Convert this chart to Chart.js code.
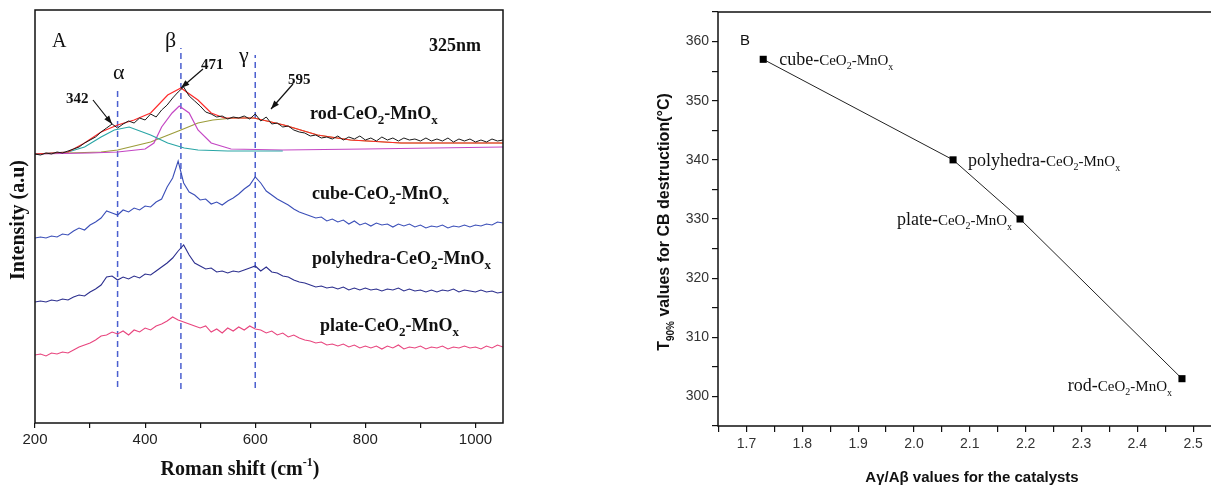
<!DOCTYPE html>
<html>
<head>
<meta charset="utf-8">
<script src="https://cdn.jsdelivr.net/npm/chart.js@4.4.0/dist/chart.umd.min.js"></script>
<style>
body{margin:0;background:#fff;width:1216px;height:486px;overflow:hidden;position:relative}
#boxA{position:absolute;left:0;top:0;width:520px;height:486px}
#boxB{position:absolute;left:640px;top:0;width:576px;height:486px}
</style>
</head>
<body>
<div id="boxA"><canvas id="ramanChart"></canvas></div>
<div id="boxB"><canvas id="t90Chart"></canvas></div>
<script>
// Panel A - Raman spectra (shift in cm-1, stacked intensity in a.u.)

// measured spectra share one shift grid: 200, 210 ... 1050
const shiftGrid=[];
for(let s=200;s<=1050;s+=10)shiftGrid.push(s);

const rodInt=[
269,268,270,269,271,270,272,274,276,280,
283,286,291,295,299,295,299,302,300,305,
303,309,306,313,318,325,331,336,327,322,
317,311,309,306,307,304,306,305,307,304,
309,302,306,299,300,296,297,293,291,290,
287,288,285,286,284,287,283,286,284,287,
283,285,282,286,283,285,282,285,283,284,
282,285,282,284,282,285,281,284,282,284,
281,283,281,284,282,283];

const cubeInt=[
185,186,185,187,186,189,188,192,195,193,
198,201,205,212,210,208,213,211,215,213,
217,216,221,224,236,245,262,240,231,228,
223,224,219,221,218,222,225,229,234,238,
246,240,232,228,224,221,218,214,211,209,
207,205,206,202,204,201,203,199,202,198,
200,197,200,198,199,196,199,197,199,196,
198,195,197,196,198,195,197,196,198,196,
198,197,199,198,201,200];

const polyInt=[
121,122,121,123,122,124,123,126,128,127,
131,134,138,146,147,143,146,144,147,145,
149,148,152,156,160,165,172,178,168,160,
157,154,155,151,152,150,152,151,153,155,
157,152,156,151,150,147,146,143,141,140,
138,136,137,135,136,134,136,133,135,133,
135,133,134,132,134,133,135,132,134,132,
133,131,133,131,133,132,134,131,133,132,
131,133,131,132,130,131];

const plateInt=[
68,69,67,70,69,71,70,73,76,78,
80,83,87,88,91,89,92,88,93,91,
95,93,97,99,102,106,103,101,99,97,
95,97,91,94,90,95,92,96,93,97,
94,93,90,92,88,90,86,88,85,83,
82,80,81,78,79,77,79,76,78,75,
77,75,77,74,77,75,78,74,76,75,
77,74,76,75,77,74,76,75,77,75,
76,74,77,75,78,76];

// fitted components of the rod spectrum
const fitSumShift=[200,260,290,320,350,380,410,441,465,496,520,544,598,652,713,773,865,1050];
const fitSumInt=[269,271,280,291,298,303,310,328,335,323,310,305,305,298,288,283,280,280];

const fitAlphaShift=[200,260,290,320,344,371,410,441,471,496,550,650];
const fitAlphaInt=[269,271,276,286,293,296,288,280,275,273,272,272];

const fitBetaShift=[200,300,350,400,416,430,449,462,480,496,520,556,650,800,1050];
const fitBetaInt=[269,270,271,274,280,296,310,317,310,293,280,274,273,274,276];

const fitGammaShift=[200,260,320,350,410,465,496,523,560,598,652,713,773,865,1050];
const fitGammaInt=[269,270,271,273,281,293,300,303,305,305,298,288,283,280,280];

// band positions (alpha, beta, gamma) and span of the dashed markers
const bandShift=[350,465,600];
const bandLow=[36,34,35];
const bandHigh=[336,375,368];

// Panel B - T90 vs A_gamma/A_beta
const catNames=["cube","polyhedra","plate","rod"];
const areaRatio=[1.73,2.07,2.19,2.48];
const t90=[357,340,330,303];

const pts=(xs,ys)=>xs.map((x,i)=>({x:x,y:ys[i]}));
const serif="'Liberation Serif','Times New Roman',serif";
const sans="'Liberation Sans',Arial,sans-serif";

function line(label,xs,ys,color,width){
return {label:label,data:pts(xs,ys),showLine:true,borderColor:color,borderWidth:width||1,pointRadius:0,fill:false,tension:0};
}

// draw text made of pieces [text, font, dy]
function pieces(ctx,x,y,parts,align){
let w=0;
parts.forEach(p=>{ctx.font=p[1];w+=ctx.measureText(p[0]).width;});
let cx=align==="right"?x-w:(align==="center"?x-w/2:x);
parts.forEach(p=>{ctx.font=p[1];ctx.fillText(p[0],cx,y+(p[2]||0));cx+=ctx.measureText(p[0]).width;});
}

function arrow(ctx,x1,y1,x2,y2){
ctx.beginPath();
ctx.moveTo(x1,y1);
ctx.lineTo(x2,y2);
ctx.stroke();
const a=Math.atan2(y2-y1,x2-x1);
ctx.beginPath();
ctx.moveTo(x2,y2);
ctx.lineTo(x2-9*Math.cos(a-0.35),y2-9*Math.sin(a-0.35));
ctx.lineTo(x2-9*Math.cos(a+0.35),y2-9*Math.sin(a+0.35));
ctx.closePath();
ctx.fill();
}

const ramanText={
id:"ramanText",
afterDraw(chart){
const ctx=chart.ctx;
const a=chart.chartArea;
ctx.save();
ctx.strokeStyle="#111";
ctx.lineWidth=1.5;
ctx.strokeRect(a.left,a.top,a.right-a.left,a.bottom-a.top);
ctx.fillStyle="#111";
ctx.textBaseline="alphabetic";
ctx.textAlign="left";

ctx.font="20px "+serif;
ctx.fillText("A",52,47);
ctx.font="bold 18px "+serif;
ctx.fillText("325nm",429,51);
ctx.font="22px "+serif;
ctx.fillText("\u03b1",113,79);
ctx.fillText("\u03b2",165,47);
ctx.fillText("\u03b3",239,62);

ctx.font="bold 15px "+serif;
ctx.fillText("342",66,103);
ctx.fillText("471",201,69);
ctx.fillText("595",288,84);

ctx.lineWidth=1.2;
arrow(ctx,93,100,112,124);
arrow(ctx,203,69,181,88);
arrow(ctx,293,84,271,109);

const big="bold 18px "+serif, sub="bold 13px "+serif;
const chem=(name,x,y)=>pieces(ctx,x,y,[[name+"-CeO",big],["2",sub,5],["-MnO",big],["x",sub,5]],"left");
chem("rod",310,119);
chem("cube",312,199);
chem("polyhedra",312,264);
chem("plate",320,331);

ctx.font="bold 20px "+serif;
ctx.save();
ctx.translate(24,220);
ctx.rotate(-Math.PI/2);
ctx.textAlign="center";
ctx.fillText("Intensity (a.u)",0,0);
ctx.restore();

pieces(ctx,240,475,[["Roman shift (cm","bold 20px "+serif],["-1","bold 12px "+serif,-9],[")","bold 20px "+serif]],"center");
ctx.restore();
}
};

const dashColor="#4a5fcf";
const bandSets=bandShift.map((s,i)=>({
label:"band"+i,data:[{x:s,y:bandLow[i]},{x:s,y:bandHigh[i]}],showLine:true,
borderColor:dashColor,borderWidth:1.5,borderDash:[6,4],pointRadius:0
}));

new Chart(
document.getElementById("ramanChart"),
{
type:"scatter",
data:{
datasets:[
line("rod",shiftGrid,rodInt,"#1a1a1a",1),
line("fit sum",fitSumShift,fitSumInt,"#ff2a2a",1.2),
line("fit alpha",fitAlphaShift,fitAlphaInt,"#2aa6a6",1.2),
line("fit beta",fitBetaShift,fitBetaInt,"#c447c4",1.2),
line("fit gamma",fitGammaShift,fitGammaInt,"#9c9c3a",1.2),
line("cube",shiftGrid,cubeInt,"#3b4fb8",1.1),
line("polyhedra",shiftGrid,polyInt,"#2c2f8e",1.1),
line("plate",shiftGrid,plateInt,"#e8457e",1.1)
].concat(bandSets)
},
options:{
responsive:true,
maintainAspectRatio:false,
animation:false,
events:[],
layout:{padding:{top:10,right:17,left:0,bottom:0}},
plugins:{legend:{display:false},tooltip:{enabled:false}},
scales:{
x:{
type:"linear",min:200,max:1050,
afterFit:s=>{s.height=63;},
afterBuildTicks:s=>{s.ticks=[200,300,400,500,600,700,800,900,1000].map(v=>({value:v}));},
ticks:{callback:v=>v%200===0?v:"",font:{family:sans,size:15},color:"#222",padding:3,maxRotation:0,autoSkip:false},
grid:{drawOnChartArea:false,tickLength:5,color:"#111",lineWidth:1.2},
border:{display:false}
},
y:{
min:0,max:413,
afterFit:s=>{s.width=35;},
ticks:{display:false},
grid:{display:false},
border:{display:false}
}
}
},
plugins:[ramanText]
}
);

// Panel B

const t90Text={
id:"t90Text",
afterDraw(chart){
const ctx=chart.ctx;
const a=chart.chartArea;
const xs=chart.scales.x, ys=chart.scales.y;
ctx.save();
ctx.strokeStyle="#111";
ctx.lineWidth=1.5;
ctx.beginPath();
ctx.moveTo(a.left,a.top);
ctx.lineTo(a.right,a.top);
ctx.moveTo(a.left,a.top);
ctx.lineTo(a.left,a.bottom);
ctx.lineTo(a.right,a.bottom);
ctx.stroke();

ctx.fillStyle="#111";
ctx.textAlign="left";
ctx.font="15px "+sans;
ctx.fillText("B",a.left+22,a.top+33);

const big="18px "+serif, mid="15px "+serif, sub="10px "+serif;
const place=[[16,6,"left"],[15,6,"left"],[-8,6,"right"],[-10,12,"right"]];
catNames.forEach((n,i)=>{
const px=xs.getPixelForValue(areaRatio[i]);
const py=ys.getPixelForValue(t90[i]);
const p=place[i];
pieces(ctx,px+p[0],py+p[1],[[n+"-",big],["CeO",mid],["2",sub,4],["-MnO",mid],["x",sub,5]],p[2]);
});

ctx.save();
ctx.translate(29,222);
ctx.rotate(-Math.PI/2);
pieces(ctx,0,0,[["T","bold 16px "+sans],["90%","bold 10px "+sans,5],[" values for CB destruction(\u00b0C)","bold 16px "+sans]],"center");
ctx.restore();

ctx.font="bold 15px "+sans;
ctx.textAlign="center";
ctx.fillText("A\u03b3/A\u03b2 values for the catalysts",332,482);
ctx.restore();
}
};

const ratioTicks=[];
for(let i=0;i<=17;i++)ratioTicks.push((165+5*i)/100);
const tempTicks=[];
for(let v=295;v<=365;v+=5)tempTicks.push(v);

new Chart(
document.getElementById("t90Chart"),
{
type:"scatter",
data:{
datasets:[{
label:"T90",
data:pts(areaRatio,t90),
showLine:true,
borderColor:"#222",
borderWidth:1,
backgroundColor:"#000",
pointStyle:"rect",
pointRadius:5,
pointBorderWidth:0,
tension:0
}]
},
options:{
responsive:true,
maintainAspectRatio:false,
animation:false,
events:[],
layout:{padding:{top:12,right:0,left:0,bottom:0}},
plugins:{legend:{display:false},tooltip:{enabled:false}},
scales:{
x:{
type:"linear",min:1.649,max:2.532,
afterFit:s=>{s.height=60;},
afterBuildTicks:s=>{s.ticks=ratioTicks.map(v=>({value:v}));},
ticks:{callback:v=>Math.round(v*100)%10===0?v.toFixed(1):"",font:{family:sans,size:14},color:"#333",padding:4,maxRotation:0,autoSkip:false},
grid:{drawOnChartArea:false,tickLength:6,color:"#111",lineWidth:1.2},
border:{display:false}
},
y:{
min:295,max:365,
afterFit:s=>{s.width=78;},
afterBuildTicks:s=>{s.ticks=tempTicks.map(v=>({value:v}));},
ticks:{callback:v=>v%10===0?v:"",font:{family:sans,size:14},color:"#333",padding:3,autoSkip:false},
grid:{drawOnChartArea:false,tickLength:6,color:"#111",lineWidth:1.2},
border:{display:false}
}
}
},
plugins:[t90Text]
}
);
</script>
</body>
</html>
